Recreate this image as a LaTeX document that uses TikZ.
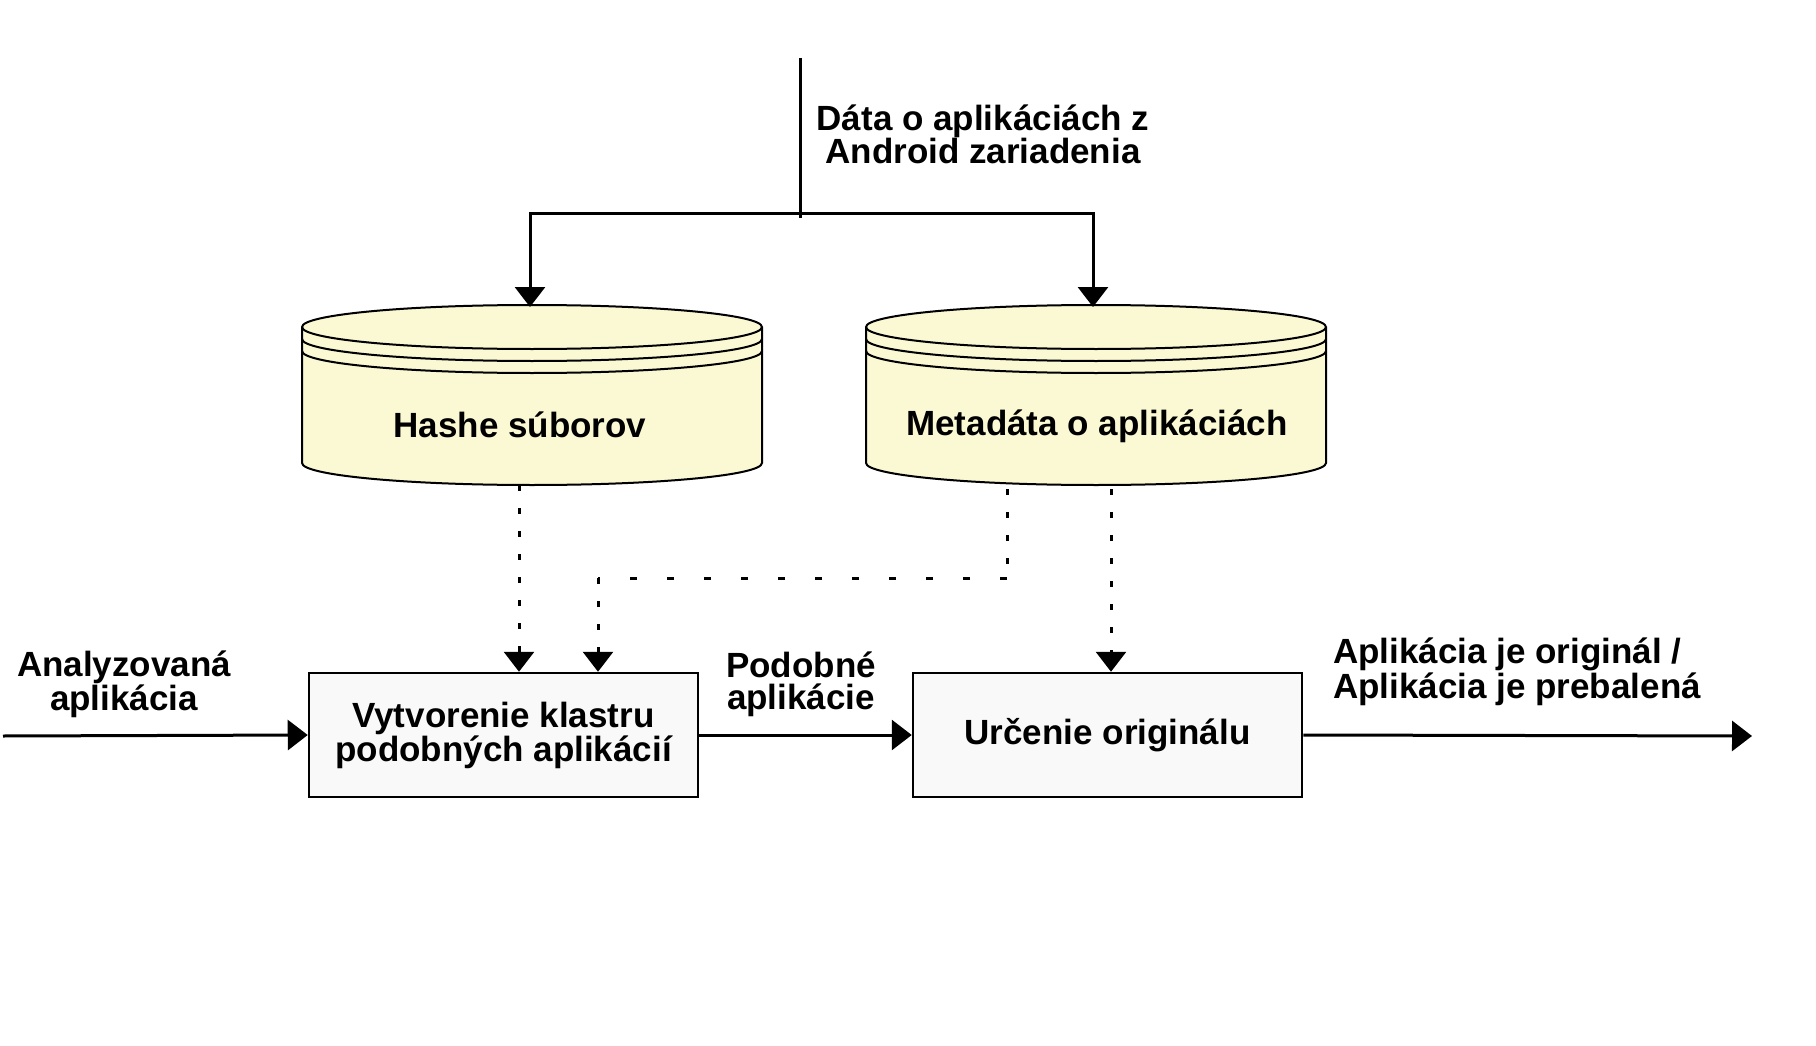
\documentclass[tikz,border=0pt]{standalone}
\usepackage{fontspec}
\setmainfont{Liberation Sans}
\usetikzlibrary{arrows.meta}
\definecolor{dbfill}{HTML}{FBF9D3}
\definecolor{boxfill}{HTML}{F9F9F9}
\def\cw{230}
\def\ry{22}

\tikzset{
  lbl/.style={font=\fontsize{35}{32}\selectfont\bfseries, inner sep=0pt},
  procbox/.style={lbl, draw, line width=2.5pt, fill=boxfill, align=center,
    minimum width=389pt, minimum height=124pt},
  flow/.style={line width=3pt, -{Triangle[length=20pt,width=30pt]}},
  feed/.style={flow, dash pattern=on 6pt off 17pt},
  dbline/.style={line width=2pt}
}

\begin{document}
\begin{tikzpicture}[x=1pt,y=-1pt]
\useasboundingbox (0,0) rectangle (1816,1046);

% databases
\foreach \cx in {532,1096}{
  \filldraw[dbline, fill=dbfill] (\cx-\cw,327) -- (\cx-\cw,463)
    arc (180:0:{\cw} and 22) -- (\cx+\cw,327) arc (0:-180:{\cw} and {\ry}) -- cycle;
  \foreach \dy in {0,12,24}
    \draw[dbline] (\cx-\cw,327+\dy) arc (180:0:{\cw} and {\ry});
}
\node[lbl, anchor=base] (hash) at (520,437) {Hashe súborov};
\node[lbl, anchor=base] (meta) at (1097,435) {Metadáta o aplikáciách};

% processing steps
\node[procbox] (clust) at (503.5,735) {Vytvorenie klastru\\podobných aplikácií};
\node[procbox] (orig) at (1107.5,735) {Určenie originálu};

% labels (base = last line)
\node[lbl, anchor=base, align=center] (src) at (983,164) {Dáta o aplikáciách z\\Android zariadenia};
\node[lbl, anchor=base, align=center] (inlbl) at (124,710) {Analyzovaná\\aplikácia};
\node[lbl, anchor=base, align=center] (simlbl) at (801,709) {Podobné\\aplikácie};
\node[lbl, anchor=base west, align=left] (outlbl) at (1333,698) {Aplikácia je originál /\\Aplikácia je prebalená};

% input from device
\coordinate (feedtop) at (800,58);
\coordinate (feedend) at (800,218);
\coordinate (branch) at (800,213);
\coordinate (hashin) at (530,307);
\coordinate (metain) at (1093,307);
\draw[line width=3pt] (feedtop) -- (feedend);
\draw[flow] (branch) -| (hashin);
\draw[flow] (branch) -| (metain);

% lookups
\coordinate (hashout) at (519,485);
\coordinate (metaout) at (1007,489);
\coordinate (origout) at (1111,489);
\coordinate (bend) at (598,578);
\draw[feed] (hashout) -- (hashout |- clust.north);
\draw[feed, -] (metaout) -- (metaout |- bend);
\draw[feed, -, dash pattern=on 7pt off 30pt] (metaout |- bend) -- (bend);
\draw[feed] (bend) -- (bend |- clust.north);
\draw[feed] (origout) -- (origout |- orig.north);

% main flow
\coordinate (start) at (3,736);
\coordinate (finish) at (1752,736);
\draw[flow] (start) -- (clust.west);
\draw[flow] (clust.east) -- (orig.west);
\draw[flow] (orig.east) -- (finish);
\end{tikzpicture}
\end{document}
